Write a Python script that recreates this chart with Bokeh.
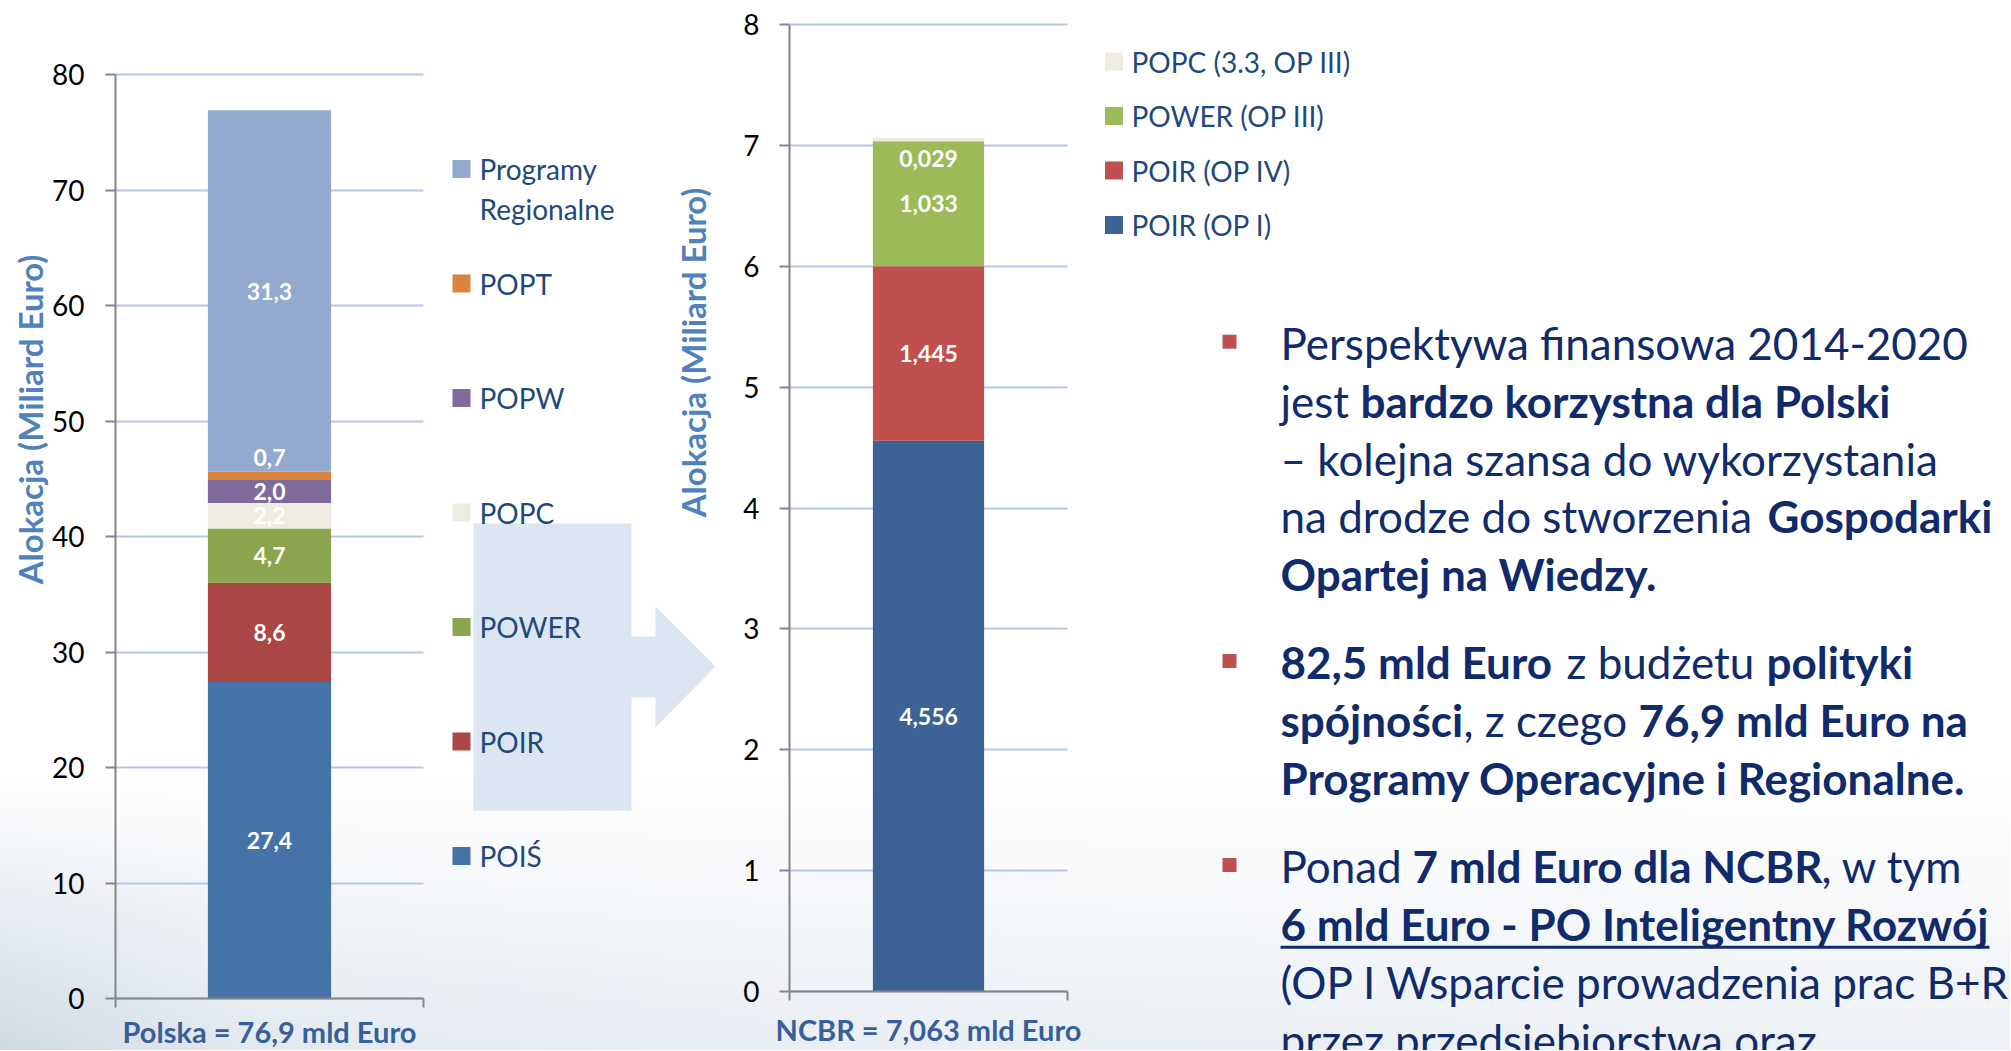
import math
from bokeh.plotting import figure
from bokeh.models import Range1d, FixedTicker, Label, ColumnDataSource
from bokeh.layouts import row
from bokeh.embed import file_html
from bokeh.resources import INLINE
from bokeh.core.properties import value

# ---------------- data ----------------
pl_series = ["POIŚ", "POIR", "POWER", "POPC", "POPW", "POPT", "Programy Regionalne"]
pl_values = [27.4, 8.6, 4.7, 2.2, 2.0, 0.7, 31.3]
pl_colors = ["#4572A7", "#AA4643", "#89A54E", "#EEECE1", "#80699B", "#DB843D", "#93A9CF"]
pl_category = "Polska = 76,9 mld Euro"
pl_ticks = [0, 10, 20, 30, 40, 50, 60, 70, 80]

ncbr_series = ["POIR (OP I)", "POIR (OP IV)", "POWER (OP III)", "POPC (3.3, OP III)"]
ncbr_values = [4.556, 1.445, 1.033, 0.029]
ncbr_colors = ["#3D6396", "#C0504D", "#9BBB59", "#EEECE1"]
ncbr_category = "NCBR = 7,063 mld Euro"
ncbr_ticks = [0, 1, 2, 3, 4, 5, 6, 7, 8]

y_title = "Alokacja (Miliard Euro)"

# small label nudges (data units) where the original moved a label off its segment
pl_label_shift = [0, 0, 0, 0, 0, 1.6, 0]
ncbr_label_shift = [0, 0, 0, -0.16]

bullets = [
    [[("Perspektywa finansowa 2014-2020", False, 1280)],
     [("jest ", False, 1280), ("bardzo korzystna dla Polski", True, 1360)],
     [("– kolejna szansa do wykorzystania", False, 1280)],
     [("na drodze do stworzenia ", False, 1280), ("Gospodarki", True, 1767)],
     [("Opartej na Wiedzy.", True, 1280)]],
    [[("82,5 mld Euro", True, 1280), ("z budżetu", False, 1566), ("polityki", True, 1766)],
     [("spójności", True, 1280), (", z czego", False, 1463), ("76,9 mld Euro na", True, 1638)],
     [("Programy Operacyjne  i Regionalne.", True, 1280)]],
    [[("Ponad", False, 1280), ("7 mld Euro dla NCBR", True, 1412), (", w tym", False, 1821)],
     [("6 mld Euro - PO Inteligentny Rozwój", True, 1280)],
     [("(OP I Wsparcie prowadzenia prac B+R", False, 1280)],
     [("przez przedsiębiorstwa oraz", False, 1280)]],
]
bullet_first_baseline = [358.7, 678.0, 882.0]
LINE_PITCH = 57.8

TEXT_COL = "#0F2B6B"
LEG_COL = "#1F497D"
TITLE_COL = "#4F81BD"
CAT_COL = "#36609A"
AXIS_COL = "#868686"
GRID_COL = "#B4C7E7"
FONT = "Lato"

# ---------------- geometry (screen layout of the slide) ----------------
H = 1050
SPLIT = 735          # page x where the left figure ends and the right one starts
TOTAL_W = 2010

# left chart: plot area x 115..423 -> 0..1 ; y: 80 at page 74, 0 at page 998
def lx(px):
    return (px - 115) / 308.0
def ly(py):
    return (998 - py) * 80.0 / 924.0

# right chart: plot area x 789..1067 -> 0..1 ; y: 8 at page 24, 0 at page 991
def rx(px):
    return (px - 789) / 278.0
def ry(py):
    return (991 - py) * 8.0 / 967.0


def base_figure(width, xr, yr):
    p = figure(width=width, height=H, x_range=Range1d(*xr), y_range=Range1d(*yr),
               output_backend="svg", toolbar_location=None, tools="", min_border=0,
               min_border_left=0, min_border_right=0, min_border_top=0, min_border_bottom=0)
    p.outline_line_color = None
    p.background_fill_alpha = 0
    p.border_fill_alpha = 0
    return p


def style_axes(p, ticks, standoff):
    yax = p.yaxis[0]
    yax.fixed_location = 0
    yax.bounds = (ticks[0], ticks[-1])
    yax.ticker = FixedTicker(ticks=ticks)
    yax.axis_line_color = AXIS_COL
    yax.axis_line_width = 2
    yax.major_tick_line_color = AXIS_COL
    yax.major_tick_line_width = 2
    yax.major_tick_out = 10
    yax.major_tick_in = 0
    yax.minor_tick_line_color = None
    yax.major_label_text_font = FONT
    yax.major_label_text_font_size = "28px"
    yax.major_label_text_color = "#000000"
    yax.major_label_standoff = standoff

    xax = p.xaxis[0]
    xax.fixed_location = 0
    xax.ticker = FixedTicker(ticks=[0.5], minor_ticks=[0.0, 1.0])
    xax.bounds = (0, 1)
    xax.axis_line_color = AXIS_COL
    xax.axis_line_width = 2
    xax.major_tick_line_color = None
    xax.major_tick_out = 0
    xax.major_tick_in = 0
    xax.minor_tick_line_color = AXIS_COL
    xax.minor_tick_line_width = 2
    xax.minor_tick_out = 9
    xax.minor_tick_in = 0
    xax.major_label_overrides = {0.5: ""}
    xax.major_label_standoff = 0

    p.xgrid.visible = False
    p.ygrid.ticker = FixedTicker(ticks=ticks)
    p.ygrid.grid_line_color = GRID_COL
    p.ygrid.grid_line_width = 2
    p.ygrid.cross_bounds = (0, 1)


def stacked_bar(p, values, colors, shifts, fmt):
    bottoms, tops, acc = [], [], 0.0
    for v in values:
        bottoms.append(acc)
        acc += v
        tops.append(acc)
    src = ColumnDataSource(dict(
        x=[0.5] * len(values), bottom=bottoms, top=tops, color=colors,
        label=[fmt(v) for v in values],
        ly=[b + v / 2 + s for b, v, s in zip(bottoms, values, shifts)],
    ))
    p.vbar(x="x", width=0.4, bottom="bottom", top="top", fill_color="color",
           line_color=None, source=src)
    p.text(x="x", y="ly", text="label", source=src, text_color="white",
           text_font=value(FONT), text_font_style="bold", text_font_size="23px",
           text_align="center", text_baseline="middle")


def text_label(p, x, y, text, size, color, bold=False, align="left", angle=0.0):
    p.add_layout(Label(x=x, y=y, text=text, angle=angle, text_font=FONT,
                       text_font_style="bold" if bold else "normal",
                       text_font_size=f"{size}px", text_color=color,
                       text_align=align, text_baseline="middle"))


def legend_block(p, fx, fy, names, colors, x_sq, x_txt, y0, pitch):
    ys = [y0 + i * pitch for i in range(len(names))]
    p.scatter(x=[fx(x_sq)] * len(names), y=[fy(y) for y in ys], marker="square",
              size=18, fill_color=colors, line_color=None)
    for name, y in zip(names, ys):
        lines = name.split(" ") if name == "Programy Regionalne" else [name]
        for k, t in enumerate(lines):
            text_label(p, fx(x_txt), fy(y + 40 * k), t, 28, LEG_COL)


# ---------------- left figure ----------------
pL = base_figure(SPLIT, (lx(0), lx(SPLIT)), (ly(H), ly(0)))
style_axes(pL, pl_ticks, 21)

# arrow shape between the two charts
arrow_px = [(473, 523), (631, 523), (631, 636), (655, 636), (655, 606), (715, 666),
            (655, 727), (655, 697), (631, 697), (631, 810), (473, 810)]
pL.patch(x=[lx(a) for a, b in arrow_px], y=[ly(b) for a, b in arrow_px],
         fill_color="#DCE6F2", line_color=None)

stacked_bar(pL, pl_values, pl_colors, pl_label_shift, lambda v: f"{v:.1f}".replace(".", ","))
legend_block(pL, lx, ly, pl_series[::-1], pl_colors[::-1], 461, 479, 168.5, 114.5)

text_label(pL, lx(29), ly(419), y_title, 33, TITLE_COL, bold=True, align="center", angle=math.pi / 2)
text_label(pL, lx(692), ly(352), y_title, 33, TITLE_COL, bold=True, align="center", angle=math.pi / 2)
text_label(pL, 0.5, ly(1031), pl_category, 29, CAT_COL, bold=True, align="center")

# ---------------- right figure ----------------
pR = base_figure(TOTAL_W - SPLIT, (rx(SPLIT), rx(TOTAL_W)), (ry(H), ry(0)))
style_axes(pR, ncbr_ticks, 20)
stacked_bar(pR, ncbr_values, ncbr_colors, ncbr_label_shift, lambda v: f"{v:.3f}".replace(".", ","))
legend_block(pR, rx, ry, ncbr_series[::-1], ncbr_colors[::-1], 1113.5, 1131, 61, 54.5)

text_label(pR, 0.5, ry(1029), ncbr_category, 29, CAT_COL, bold=True, align="center")

# bullet text block
bullet_y = [b - 17.5 for b in bullet_first_baseline]
pR.scatter(x=[rx(1229)] * 3, y=[ry(b) for b in bullet_y], marker="square", size=14,
           fill_color="#C0504D", line_color=None)
for para, y0 in zip(bullets, bullet_first_baseline):
    for li, line in enumerate(para):
        centre = y0 + li * LINE_PITCH - 16.3
        for text, bold, x0 in line:
            text_label(pR, rx(x0), ry(centre), text, 44, TEXT_COL, bold=bold)
# underline of the "6 mld Euro - PO Inteligentny Rozwój" line
u_y = bullet_first_baseline[2] + LINE_PITCH + 7
pR.segment(x0=[rx(1280)], y0=[ry(u_y)], x1=[rx(1989)], y1=[ry(u_y)],
           line_color=TEXT_COL, line_width=3)

haze = ("linear-gradient(to bottom, rgba(255,255,255,1) 0%, rgba(255,255,255,1) 74%, "
        "rgba(255,255,255,0) 100%), ")
pL.styles = {"background": haze + "linear-gradient(to right, #CFDAE6 0%, #E3E9F0 35%, #E9EEF4 100%)"}
pR.styles = {"background": haze + "linear-gradient(to right, #E9EEF4 0%, #EEF2F6 100%)"}

layout = row(pL, pR)
open("out.html", "w").write(file_html(layout, INLINE))
